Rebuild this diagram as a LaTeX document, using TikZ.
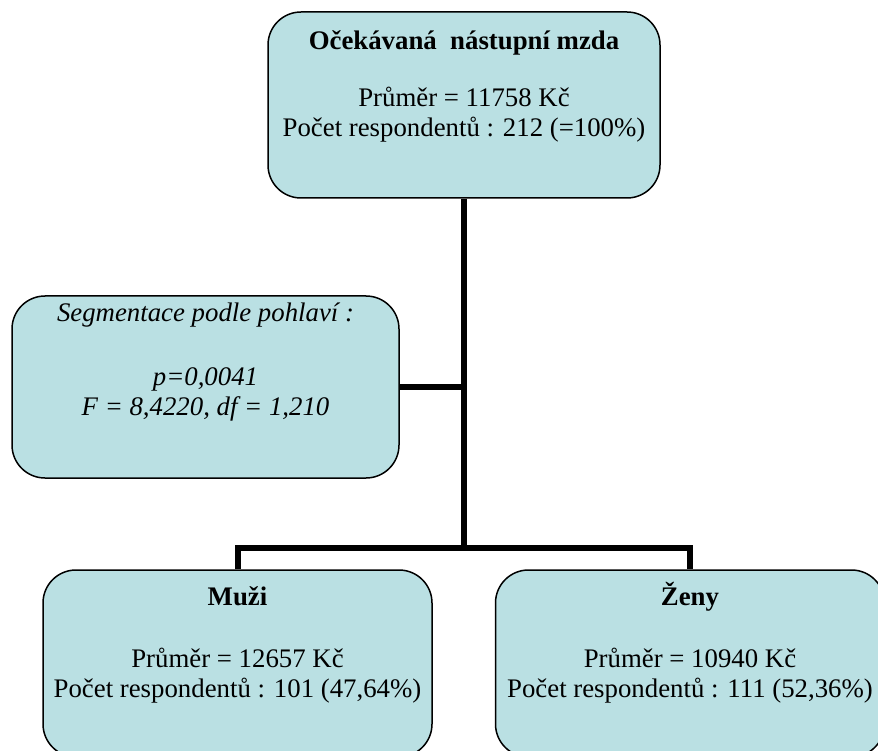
\documentclass[tikz,border=0pt]{standalone}
\usepackage{fontspec}
\setmainfont{Liberation Serif}
\definecolor{boxfill}{RGB}{186,224,227}
\begin{document}
\begin{tikzpicture}[x=1pt,y=-1pt,
  box/.style={draw=black, line width=1.5pt, fill=boxfill, rounded corners=33pt, inner sep=0pt},
  conn/.style={line width=6pt, line join=miter, draw=black},
  txt/.style={anchor=base, inner sep=0pt, font=\fontsize{26.8}{30}\selectfont}]
\useasboundingbox (0,0) rectangle (878,751);
% boxes
\node[box, minimum width=392pt, minimum height=186pt] (top) at (464,105) {};
\node[box, minimum width=387pt, minimum height=182pt] (seg) at (205.5,387) {};
\node[box, minimum width=389pt, minimum height=187pt] (muzi) at (237.5,663.5) {};
\node[box, minimum width=389pt, minimum height=187pt] (zeny) at (690,663.5) {};
% junction
\coordinate (j) at (464,548);
% connectors
\draw[conn] (top.south) -- (j);
\draw[conn] (seg.east) -- (seg.east -| j);
\draw[conn] (muzi.north) |- (j) -| (zeny.north);
% texts
\node[txt] (t1) at (464,50) {\textbf{Očekávaná\ \ nástupní mzda}};
\node[txt] (t2) at (464,107) {Průměr = 11758 Kč};
\node[txt] (t3) at (464,137) {Počet respondentů : 212 (=100\%)};
\node[txt] (s1) at (205.5,322) {\itshape Segmentace podle pohlaví :};
\node[txt] (s2) at (205.5,385) {\itshape p=0,0041};
\node[txt] (s3) at (205.5,415) {\itshape F = 8,4220, df = 1,210};
\node[txt] (m1) at (237.5,605) {\textbf{Muži}};
\node[txt] (m2) at (237.5,667) {Průměr = 12657 Kč};
\node[txt] (m3) at (237.5,697) {Počet respondentů : 101 (47,64\%)};
\node[txt] (z1) at (690,605) {\textbf{Ženy}};
\node[txt] (z2) at (690,667) {Průměr = 10940 Kč};
\node[txt] (z3) at (690,697) {Počet respondentů : 111 (52,36\%)};
\end{tikzpicture}
\end{document}
